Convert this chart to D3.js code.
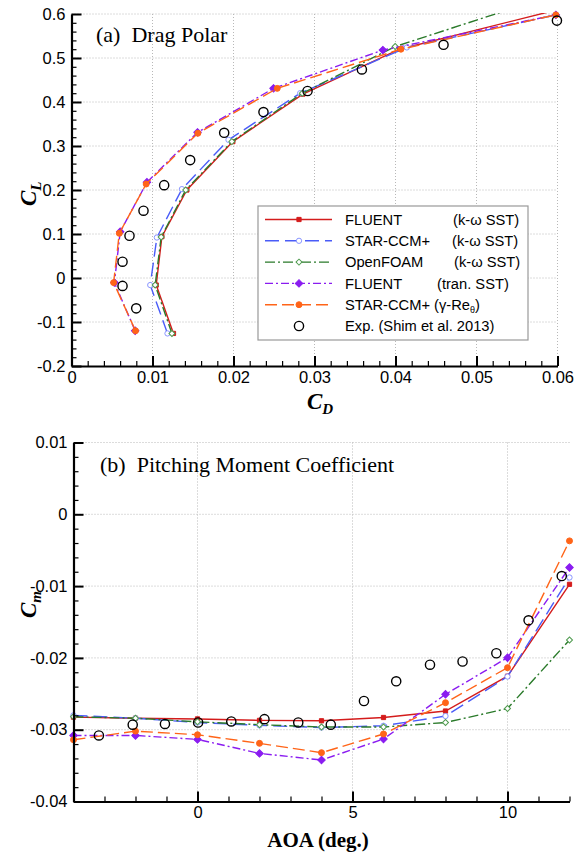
<!DOCTYPE html>
<html>
<head>
<meta charset="utf-8">
<script src="https://cdn.jsdelivr.net/npm/d3@7"></script>
<style>
  body { margin: 0; background: #fff; }
  svg { display: block; }
  .tick text { font-family: "Liberation Sans", Arial, sans-serif; font-size: 16.5px; fill: #000; }
  .domain { stroke: #000; stroke-width: 2.2px; }
  .major line { stroke: #000; stroke-width: 2px; }
  .minor line { stroke: #000; stroke-width: 1.2px; }
  .grid line { stroke: #b8b8b8; stroke-width: 1px; stroke-dasharray: 1,2; }
</style>
</head>
<body>
<script>
// ---- data: (a) drag polar, AOA -4 .. 10 deg ----
const cdFluentSst = [0.01259, 0.01046, 0.01116, 0.01424, 0.01992, 0.02857, 0.0405, 0.0605];
const clFluentSst = [-0.126, -0.016, 0.094, 0.2, 0.31, 0.418, 0.52, 0.612];
const cdStarSst = [0.01185, 0.00972, 0.01054, 0.01363, 0.01938, 0.02823, 0.0414, 0.0598];
const clStarSst = [-0.126, -0.016, 0.092, 0.202, 0.314, 0.42, 0.524, 0.598];
const cdFoamSst = [0.0124, 0.01033, 0.01107, 0.0141, 0.0198, 0.0285, 0.03996, 0.058];
const clFoamSst = [-0.126, -0.016, 0.093, 0.2, 0.31, 0.42, 0.526, 0.634];
const cdFluentTran = [0.00786, 0.0053, 0.00601, 0.00931, 0.01556, 0.02494, 0.03844, 0.0598];
const clFluentTran = [-0.12, -0.0105, 0.105, 0.2175, 0.331, 0.431, 0.518, 0.598];
const cdStarGamma = [0.0079, 0.0052, 0.0059, 0.00922, 0.0156, 0.0254, 0.04067, 0.0598];
const clStarGamma = [-0.12, -0.0105, 0.1016, 0.2136, 0.329, 0.431, 0.52, 0.598];
const cdExp = [0.00799, 0.0063, 0.0063, 0.00716, 0.00889, 0.01144, 0.01465, 0.01885, 0.0237, 0.02914, 0.03585, 0.04593, 0.05993];
const clExp = [-0.069, -0.018, 0.037, 0.096, 0.153, 0.211, 0.268, 0.33, 0.377, 0.425, 0.474, 0.53, 0.585];

// ---- data: (b) pitching moment ----
const aoa = [-4, -2, 0, 2, 4, 6, 8, 10, 12];
const cmFluentSst = [-0.02825, -0.0284, -0.0285, -0.0287, -0.02876, -0.0283, -0.0274, -0.02255, -0.00975];
const cmStarSst = [-0.028, -0.0284, -0.029, -0.0294, -0.0297, -0.02945, -0.0281, -0.0226, -0.0088];
const cmFoamSst = [-0.0282, -0.0284, -0.0289, -0.0293, -0.02963, -0.02963, -0.029, -0.02705, -0.0175];
const cmFluentTran = [-0.0308, -0.0308, -0.03135, -0.0333, -0.03422, -0.0313, -0.02507, -0.01997, -0.0074];
const cmStarGamma = [-0.0314, -0.0302, -0.0307, -0.0319, -0.0332, -0.0306, -0.02624, -0.02136, -0.0037];
const aoaExp = [-3.18, -2.09, -1.05, 0.02, 1.09, 2.16, 3.25, 4.3, 5.37, 6.41, 7.5, 8.55, 9.64, 10.68, 11.75];
const cmExp = [-0.0308, -0.0293, -0.0292, -0.029, -0.02885, -0.02853, -0.029, -0.0293, -0.026, -0.02326, -0.02095, -0.0205, -0.01935, -0.01477, -0.0086];

// ---- ticks ----
const cdTicks = [0, 0.01, 0.02, 0.03, 0.04, 0.05, 0.06];
const clTicks = [-0.2, -0.1, 0, 0.1, 0.2, 0.3, 0.4, 0.5, 0.6];
const aoaTicks = [0, 5, 10];
const cmTicks = [-0.04, -0.03, -0.02, -0.01, 0, 0.01];

// ---- legend labels ----
const legendNames = ["FLUENT", "STAR-CCM+", "OpenFOAM", "FLUENT", "STAR-CCM+ (\u03b3-Re", "Exp. (Shim et al. 2013)"];
const legendModels = ["(k-\u03c9 SST)", "(k-\u03c9 SST)", "(k-\u03c9 SST)", "(tran. SST)", "", ""];

// series styles (rot = square turned into a diamond)
const series = [
    { cd: cdFluentSst, cl: clFluentSst, cm: cmFluentSst, color: "#d41c1c", dash: null, size: 18, rot: 0, circle: false, fill: true },
    { cd: cdStarSst, cl: clStarSst, cm: cmStarSst, color: "#4a5cf8", dash: "14,6", size: 22, rot: 0, circle: true, fill: false, mk: "#8a96ff" },
    { cd: cdFoamSst, cl: clFoamSst, cm: cmFoamSst, color: "#2a7a2a", dash: "10,3,2,3", size: 18, rot: 45, circle: false, fill: false, mk: "#4e9a4e" },
    { cd: cdFluentTran, cl: clFluentTran, cm: cmFluentTran, color: "#8a1cf0", dash: "8,3,2,3", size: 28, rot: 45, circle: false, fill: true },
    { cd: cdStarGamma, cl: clStarGamma, cm: cmStarGamma, color: "#ff6418", dash: "12,5", size: 28, rot: 0, circle: true, fill: true }
];
const markerPath = s => d3.symbol().type(s.circle ? d3.symbolCircle : d3.symbolSquare).size(s.size)();

const svg = d3.select("body").append("svg")
    .attr("width", 576)
    .attr("height", 854);

// helper for drawing axes with inward major + minor ticks
function drawAxis(g, axisFn, scale, major, minor, fmt, pad) {
    g.append("g").attr("class", "minor")
        .call(axisFn(scale).tickValues(minor).tickSize(-5).tickSizeOuter(0).tickFormat(""))
        .select(".domain").remove();
    g.append("g").attr("class", "major")
        .call(axisFn(scale).tickValues(major).tickSize(-10).tickSizeOuter(0).tickFormat(fmt).tickPadding(pad));
}
const fmtNum = d => String(+d.toFixed(3));

// draws markers of one series
function drawMarkers(s, pts, x, y) {
    svg.selectAll(null)
        .data(pts)
        .enter()
        .append("path")
        .attr("d", markerPath(s))
        .attr("transform", d => `translate(${x(d[0])},${y(d[1])}) rotate(${s.rot})`)
        .attr("fill", s.fill ? s.color : "#fff")
        .attr("stroke", s.fill ? s.color : s.mk)
        .attr("stroke-width", 1);
}

// ===================== (a) Drag polar =====================
const xA = d3.scaleLinear().domain([0, 0.06]).range([71.5, 557.5]);
const yA = d3.scaleLinear().domain([-0.2, 0.6]).range([366, 14]);

svg.append("clipPath").attr("id", "clipA")
    .append("rect").attr("x", 60).attr("y", 13).attr("width", 510).attr("height", 360);

// grid
const gridA = svg.append("g").attr("class", "grid");
gridA.selectAll(".gv").data(cdTicks.slice(1)).enter().append("line")
    .attr("x1", d => xA(d)).attr("x2", d => xA(d)).attr("y1", yA(0.6)).attr("y2", yA(-0.2));
gridA.selectAll(".gh").data(clTicks.slice(1)).enter().append("line")
    .attr("x1", xA(0)).attr("x2", xA(0.06)).attr("y1", d => yA(d)).attr("y2", d => yA(d));

// lines
const lineA = d3.line().x(d => xA(d[0])).y(d => yA(d[1]));
series.forEach(s => {
    const pts = s.cd.map((v, i) => [v, s.cl[i]]);
    svg.append("path")
        .attr("clip-path", "url(#clipA)")
        .attr("d", lineA(pts))
        .attr("fill", "none")
        .attr("stroke", s.color)
        .attr("stroke-width", 1.4)
        .attr("stroke-dasharray", s.dash);
    drawMarkers(s, pts.filter(p => p[1] <= 0.6), xA, yA);
});
// experiment
svg.selectAll(null)
    .data(cdExp.map((v, i) => [v, clExp[i]]))
    .enter()
    .append("circle")
    .attr("cx", d => xA(d[0]))
    .attr("cy", d => yA(d[1]))
    .attr("r", 4.6)
    .attr("fill", "none")
    .attr("stroke", "#000")
    .attr("stroke-width", 1.4);

// axes
const axA = svg.append("g");
drawAxis(axA.append("g").attr("transform", `translate(0,${yA(-0.2)})`), d3.axisBottom, xA,
    cdTicks, d3.range(0.002, 0.0601, 0.002).filter(v => Math.abs(v * 100 - Math.round(v * 100)) > 1e-6), fmtNum, 5);
drawAxis(axA.append("g").attr("transform", `translate(${xA(0)},0)`), d3.axisLeft, yA,
    clTicks, d3.range(-0.18, 0.6, 0.02).filter(v => Math.abs(v * 10 - Math.round(v * 10)) > 1e-6), fmtNum, 6);

// title
svg.append("text")
    .text("(a)\u00a0\u00a0Drag Polar")
    .attr("x", 96).attr("y", 42)
    .attr("font-family", "Liberation Serif, Times New Roman, serif")
    .attr("font-size", 22);

// axis labels
const cl = svg.append("text")
    .attr("transform", "translate(36,206) rotate(-90)")
    .attr("font-family", "Liberation Serif, Times New Roman, serif")
    .attr("font-weight", "bold").attr("font-style", "italic")
    .attr("font-size", 23);
cl.append("tspan").text("C");
cl.append("tspan").text("L").attr("font-size", 15).attr("dy", 5);

const cdl = svg.append("text")
    .attr("x", 307).attr("y", 409)
    .attr("font-family", "Liberation Serif, Times New Roman, serif")
    .attr("font-weight", "bold").attr("font-style", "italic")
    .attr("font-size", 23);
cdl.append("tspan").text("C");
cdl.append("tspan").text("D").attr("font-size", 15).attr("dy", 5);

// legend
const leg = svg.append("g");
leg.append("rect")
    .attr("x", 258).attr("y", 206)
    .attr("width", 270).attr("height", 134)
    .attr("fill", "#fff")
    .attr("stroke", "#999")
    .attr("stroke-width", 1.2);
const modelX = [453, 452, 454, 437];
legendNames.forEach((name, i) => {
    const yy = 219.5 + i * 21.3;
    if (i < 5) {
        const s = series[i];
        leg.append("line")
            .attr("x1", 265).attr("x2", 332).attr("y1", yy).attr("y2", yy)
            .attr("stroke", s.color).attr("stroke-width", 1.4)
            .attr("stroke-dasharray", s.dash);
        leg.append("path")
            .attr("d", markerPath(s))
            .attr("transform", `translate(299,${yy}) rotate(${s.rot})`)
            .attr("fill", s.fill ? s.color : "#fff")
            .attr("stroke", s.fill ? s.color : s.mk);
    } else {
        leg.append("circle")
            .attr("cx", 299).attr("cy", yy).attr("r", 4.6)
            .attr("fill", "none").attr("stroke", "#000").attr("stroke-width", 1.4);
    }
    const t = leg.append("text")
        .attr("x", 345).attr("y", yy + 5.2)
        .attr("font-family", "Liberation Sans, Arial, sans-serif")
        .attr("font-size", 14.7);
    t.append("tspan").text(name);
    if (i === 4) {
        t.append("tspan").text("\u03b8").attr("font-size", 9).attr("dy", 3);
        t.append("tspan").text(")").attr("dy", -3);
    }
    if (legendModels[i]) {
        leg.append("text")
            .text(legendModels[i])
            .attr("x", modelX[i]).attr("y", yy + 5.2)
            .attr("font-family", "Liberation Sans, Arial, sans-serif")
            .attr("font-size", 14.7);
    }
});

// ===================== (b) Pitching moment =====================
const xB = d3.scaleLinear().domain([-4, 12]).range([73.5, 569.5]);
const yB = d3.scaleLinear().domain([-0.04, 0.01]).range([801.5, 442.5]);

const gridB = svg.append("g").attr("class", "grid");
gridB.selectAll(".gv").data(aoaTicks).enter().append("line")
    .attr("x1", d => xB(d)).attr("x2", d => xB(d)).attr("y1", yB(0.01)).attr("y2", yB(-0.04));
gridB.selectAll(".gh").data(cmTicks.slice(1)).enter().append("line")
    .attr("x1", xB(-4)).attr("x2", xB(12)).attr("y1", d => yB(d)).attr("y2", d => yB(d));

const lineB = d3.line().x(d => xB(d[0])).y(d => yB(d[1]));
series.forEach(s => {
    const pts = aoa.map((a, i) => [a, s.cm[i]]);
    svg.append("path")
        .attr("d", lineB(pts))
        .attr("fill", "none")
        .attr("stroke", s.color)
        .attr("stroke-width", 1.4)
        .attr("stroke-dasharray", s.dash);
    drawMarkers(s, pts, xB, yB);
});
svg.selectAll(null)
    .data(aoaExp.map((a, i) => [a, cmExp[i]]))
    .enter()
    .append("circle")
    .attr("cx", d => xB(d[0]))
    .attr("cy", d => yB(d[1]))
    .attr("r", 4.6)
    .attr("fill", "none")
    .attr("stroke", "#000")
    .attr("stroke-width", 1.4);

const axB = svg.append("g");
drawAxis(axB.append("g").attr("transform", `translate(0,${yB(-0.04)})`), d3.axisBottom, xB,
    aoaTicks, d3.range(-3, 12.5, 1).filter(v => v % 5 !== 0), fmtNum, 5);
drawAxis(axB.append("g").attr("transform", `translate(${xB(-4)},0)`), d3.axisLeft, yB,
    cmTicks, d3.range(-0.038, 0.0101, 0.002).filter(v => Math.abs(v * 100 - Math.round(v * 100)) > 1e-6), fmtNum, 6);

svg.append("text")
    .text("(b)\u00a0\u00a0Pitching Moment Coefficient")
    .attr("x", 100).attr("y", 472)
    .attr("font-family", "Liberation Serif, Times New Roman, serif")
    .attr("font-size", 22);

const cm = svg.append("text")
    .attr("transform", "translate(36,618) rotate(-90)")
    .attr("font-family", "Liberation Serif, Times New Roman, serif")
    .attr("font-weight", "bold").attr("font-style", "italic")
    .attr("font-size", 23);
cm.append("tspan").text("C");
cm.append("tspan").text("m").attr("font-size", 15).attr("dy", 5);

svg.append("text")
    .text("AOA (deg.)")
    .attr("x", 318).attr("y", 847)
    .attr("text-anchor", "middle")
    .attr("font-family", "Liberation Serif, Times New Roman, serif")
    .attr("font-weight", "bold")
    .attr("font-size", 21);
</script>
</body>
</html>
